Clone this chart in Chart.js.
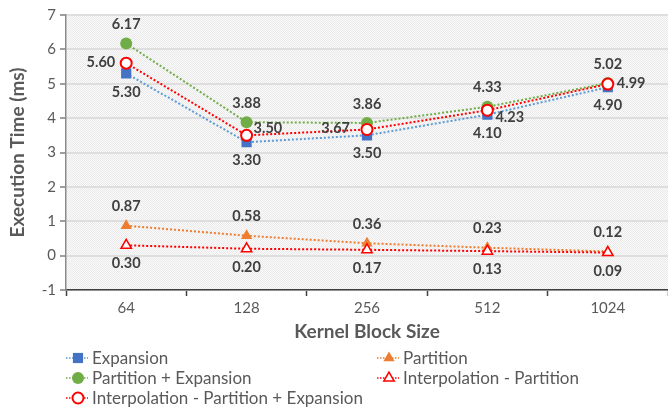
<!DOCTYPE html>
<html>
<head>
<meta charset="utf-8">
<script src="https://cdn.jsdelivr.net/npm/chart.js@4/dist/chart.umd.min.js"></script>
<style>
  html, body { margin: 0; padding: 0; background: #ffffff; }
  #wrap { width: 668px; height: 408px; position: relative; }
</style>
</head>
<body>
<div id="wrap"><canvas id="chart" width="668" height="408"></canvas></div>
<script>
// Kernel block sizes on the x axis
const categories = ['64', '128', '256', '512', '1024'];

// Execution times (ms) per series
const expansion = [5.30, 3.30, 3.50, 4.10, 4.90];
const partition = [0.87, 0.58, 0.36, 0.23, 0.12];
const partitionExpansion = [6.17, 3.88, 3.86, 4.33, 5.02];
const interpPartition = [0.30, 0.20, 0.17, 0.13, 0.09];
const interpPartitionExpansion = [5.60, 3.50, 3.67, 4.23, 4.99];

// Value axis range
const yMin = -1;
const yMax = 7;
const yStep = 1;

const FONT = 'Lato, "Open Sans", sans-serif';
const TEXT = '#595959';
const LABEL = '#404040';

// Value label placement for each point: horizontal align, x/y offset from the marker centre
const above = { align: 'center', dx: 0, dy: -19 };
const below = { align: 'center', dx: 0, dy: 18.5 };
const ipeLabelPlaces = [
  { align: 'right', dx: -11, dy: -1 },
  { align: 'left', dx: 7, dy: -7 },
  { align: 'right', dx: -17, dy: -1 },
  { align: 'left', dx: 8, dy: 7 },
  { align: 'left', dx: 9, dy: -1 }
];

function pattern() {
  const c = document.createElement('canvas');
  c.width = 4; c.height = 4;
  const g = c.getContext('2d');
  g.fillStyle = '#fbfbfb';
  g.fillRect(0, 0, 4, 4);
  g.fillStyle = '#e9e9e9';
  for (let i = 0; i < 4; i++) {
    g.fillRect(i, i, 1, 1);
    g.fillRect((i + 2) % 4, i, 1, 1);
  }
  return c;
}

const series = [
  { label: 'Expansion', data: expansion, line: '#5B9BD5', fill: '#4472C4', stroke: '#4472C4',
    style: 'rect', radius: 7.2, border: 0, places: Array(5).fill(below) },
  { label: 'Partition', data: partition, line: '#ED7D31', fill: '#ED7D31', stroke: '#ED7D31',
    style: 'triangle', radius: 6.5, border: 0, places: Array(5).fill(above) },
  { label: 'Partition + Expansion', data: partitionExpansion, line: '#70AD47', fill: '#70AD47', stroke: '#70AD47',
    style: 'circle', radius: 6, border: 0, places: Array(5).fill(above) },
  { label: 'Interpolation - Partition', data: interpPartition, line: '#FF0000', fill: '#FFFFFF', stroke: '#FF0000',
    style: 'triangle', radius: 6, border: 1.5, places: Array(5).fill(below) },
  { label: 'Interpolation - Partition + Expansion', data: interpPartitionExpansion, line: '#FF0000', fill: '#FFFFFF', stroke: '#FF0000',
    style: 'circle', radius: 5.5, border: 2, places: ipeLabelPlaces }
];

const datasets = series.map((s, i) => ({
  label: s.label,
  data: s.data,
  borderColor: s.line,
  borderWidth: 2,
  borderDash: [2, 2],
  pointStyle: s.style,
  pointRadius: s.radius,
  pointHoverRadius: s.radius,
  pointBackgroundColor: s.fill,
  pointBorderColor: s.stroke,
  pointBorderWidth: s.border,
  tension: 0,
  fill: false,
  order: series.length - i,
  labelPlaces: s.places
}));

// Hatched plot background
const plotBackground = {
  id: 'plotBackground',
  beforeDraw(chart) {
    const { ctx, chartArea: a } = chart;
    ctx.save();
    ctx.fillStyle = ctx.createPattern(pattern(), 'repeat');
    ctx.fillRect(a.left, a.top, a.right - a.left, a.bottom - a.top);
    ctx.restore();
  }
};

// Value labels next to each marker
const valueLabels = {
  id: 'valueLabels',
  afterDatasetsDraw(chart) {
    const { ctx } = chart;
    ctx.save();
    ctx.font = 'bold 14.5px ' + FONT;
    ctx.fillStyle = LABEL;
    ctx.textBaseline = 'middle';
    chart.data.datasets.forEach((ds, di) => {
      const meta = chart.getDatasetMeta(di);
      meta.data.forEach((pt, i) => {
        const p = ds.labelPlaces[i];
        ctx.textAlign = p.align;
        ctx.fillText(ds.data[i].toFixed(2), pt.x + p.dx, pt.y + p.dy);
      });
    });
    ctx.restore();
  }
};

// Legend below the axis: dotted line with its marker, two columns
const lineLegend = {
  id: 'lineLegend',
  afterDraw(chart) {
    const { ctx } = chart;
    const cols = [66, 377];
    const rows = [358, 378, 398];
    ctx.save();
    ctx.font = '17px ' + FONT;
    ctx.textBaseline = 'middle';
    ctx.textAlign = 'left';
    chart.data.datasets.forEach((ds, i) => {
      const x = cols[i % 2];
      const y = rows[Math.floor(i / 2)];
      ctx.strokeStyle = ds.borderColor;
      ctx.lineWidth = 1.5;
      ctx.setLineDash([1.5, 1.5]);
      ctx.beginPath();
      ctx.moveTo(x, y);
      ctx.lineTo(x + 22, y);
      ctx.stroke();
      ctx.setLineDash([]);
      ctx.fillStyle = ds.pointBackgroundColor;
      ctx.strokeStyle = ds.pointBorderColor;
      ctx.lineWidth = ds.pointBorderWidth;
      Chart.helpers.drawPoint(ctx, {
        pointStyle: ds.pointStyle,
        radius: ds.pointRadius,
        borderWidth: ds.pointBorderWidth,
        rotation: 0
      }, x + 12, y);
      ctx.fillStyle = TEXT;
      ctx.fillText(ds.label, x + 26, y + 0.5);
    });
    ctx.restore();
  }
};

new Chart(document.getElementById('chart'), {
  type: 'line',
  data: { labels: categories, datasets },
  plugins: [plotBackground, valueLabels, lineLegend],
  options: {
    responsive: false,
    animation: false,
    devicePixelRatio: 1,
    layout: { autoPadding: false, padding: { top: 15, right: -2, bottom: 58, left: 0 } },
    plugins: { legend: { display: false }, tooltip: { enabled: false } },
    scales: {
      x: {
        offset: true,
        grid: { offset: true, drawOnChartArea: false, tickLength: 6, tickColor: '#404040', tickWidth: 1.5 },
        border: { color: '#404040', width: 1.5 },
        ticks: { color: TEXT, font: { family: FONT, size: 15 }, padding: 3 },
        title: { display: true, text: 'Kernel Block Size', color: TEXT,
                 font: { family: FONT, size: 19, weight: 'bold' }, padding: { top: 0, bottom: 7 } },
        afterFit(scale) { scale.height = 60; }
      },
      y: {
        min: yMin, max: yMax,
        ticks: { stepSize: yStep, color: TEXT, font: { family: FONT, size: 15 }, padding: 4 },
        grid: { color: '#dedede', lineWidth: 2, tickLength: 6, tickColor: '#7f7f7f', tickWidth: 1.5 },
        border: { color: '#8c8c8c', width: 1.5 },
        title: { display: true, text: 'Execution Time (ms)', color: TEXT,
                 font: { family: FONT, size: 19, weight: 'bold' }, padding: { top: 6, bottom: 0 } },
        afterFit(scale) { scale.width = 66; }
      }
    }
  }
});
</script>
</body>
</html>
